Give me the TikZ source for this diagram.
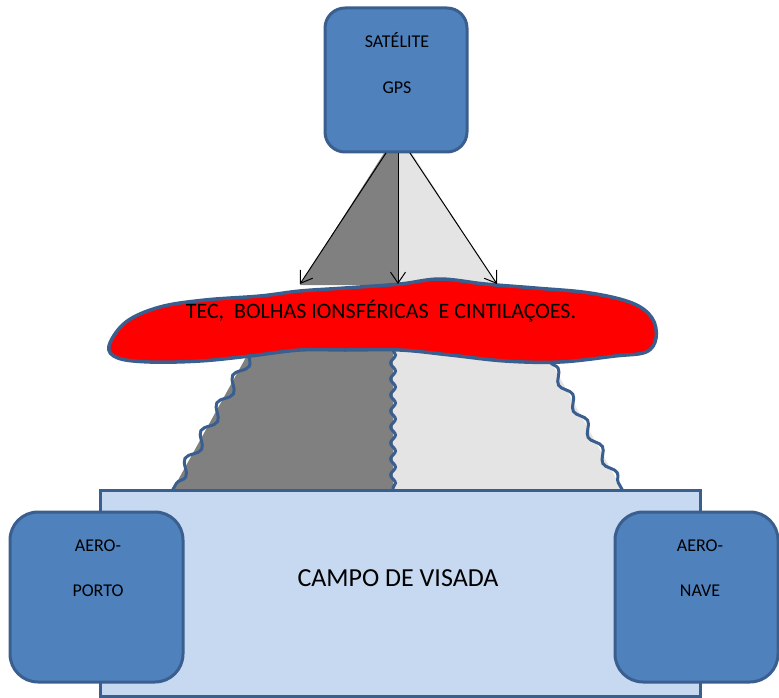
\documentclass[tikz,border=0pt]{standalone}
\usepackage{fontspec}
\setmainfont{Carlito}
\usetikzlibrary{decorations.pathmorphing,arrows.meta}
\definecolor{boxblue}{HTML}{4F81BD}
\definecolor{edgeblue}{HTML}{3A5F8F}
\definecolor{fieldblue}{HTML}{C6D9F1}
\definecolor{darkgrey}{HTML}{808080}
\definecolor{lightgrey}{HTML}{E4E4E4}
\tikzset{
  bluebox/.style={draw=edgeblue,line width=3pt,fill=boxblue,rounded corners=#1},
  lbl/.style={inner sep=0pt,font=\fontsize{18}{20}\selectfont},
  ray/.style={line width=1pt,-{Straight Barb[length=11pt,width=15pt]}},
  wavyline/.style 2 args={draw=edgeblue,line width=3pt,decorate,decoration={snake,amplitude=#1,segment length=#2}}
}
\begin{document}
\begin{tikzpicture}[x=1pt,y=-1pt]
\useasboundingbox (0,0) rectangle (779,698);
% upper triangles
\fill[darkgrey] (386,150) -- (300,285) -- (398,285) -- (398,150) -- cycle;
\fill[lightgrey] (398,150) -- (398,285) -- (497,285) -- (410,150) -- cycle;
% lower triangles
\fill[darkgrey] (250,350) -- (172,491) -- (393,491) -- (393,345) -- cycle;
\fill[lightgrey] (393,345) -- (393,491) -- (623,491) -- (550,360) -- cycle;
\draw[wavyline={5pt}{32pt}] (250,355) -- (172,491);
\draw[wavyline={2.5pt}{16pt}] (393,350) -- (393,491);
\draw[wavyline={4pt}{30pt}] (550,362) -- (623,491);
% field
\node[draw=edgeblue,line width=3pt,fill=fieldblue,minimum width=600pt,minimum height=206pt,inner sep=0pt] (campo) at (400,593) {};
\node[font=\fontsize{26}{28}\selectfont,inner sep=0pt] (campotxt) at (398,578) {CAMPO DE VISADA};
% aero boxes
\node[bluebox=28pt,minimum width=173pt,minimum height=170pt] (porto) at (96.5,597) {};
\node[lbl] (porto1) at (98,546) {AERO-};
\node[lbl] (porto2) at (98,591) {PORTO};
\node[bluebox=28pt,minimum width=163pt,minimum height=170pt] (nave) at (696.5,597) {};
\node[lbl] (nave1) at (700,546) {AERO-};
\node[lbl] (nave2) at (700,591) {NAVE};
% cloud
\draw[edgeblue,line width=3.5pt,fill=red] plot[smooth cycle,tension=0.6] coordinates {
 (109,346) (126,322) (160,307) (205,300) (260,296) (300,291) (345,288) (400,284)
 (440,279) (485,284) (535,288) (590,293) (632,303) (652,318) (656,338) (646,352)
 (615,356) (560,362) (505,361) (450,355) (400,350) (345,350) (300,350) (250,356)
 (200,361) (150,362) (118,358)};
\node[inner sep=0pt,font=\fontsize{22}{24}\selectfont] (tec) at (381,311) {TEC,\ \ BOLHAS IONSFÉRICAS\ \ E CINTILAÇOES.};
% satellite
\node[bluebox=20pt,minimum width=142pt,minimum height=144pt] (sat) at (396,80) {};
\node[lbl] (sat1) at (397,40) {SATÉLITE};
\node[lbl] (sat2) at (397,88) {GPS};
\coordinate (s1) at (386,153);
\coordinate (s2) at (398,153);
\coordinate (s3) at (410,153);
\coordinate (t1) at (300,284);
\coordinate (t2) at (398,284);
\coordinate (t3) at (497,284);
\draw[ray] (s1) -- (t1);
\draw[ray] (s2) -- (t2);
\draw[ray] (s3) -- (t3);
\end{tikzpicture}
\end{document}
